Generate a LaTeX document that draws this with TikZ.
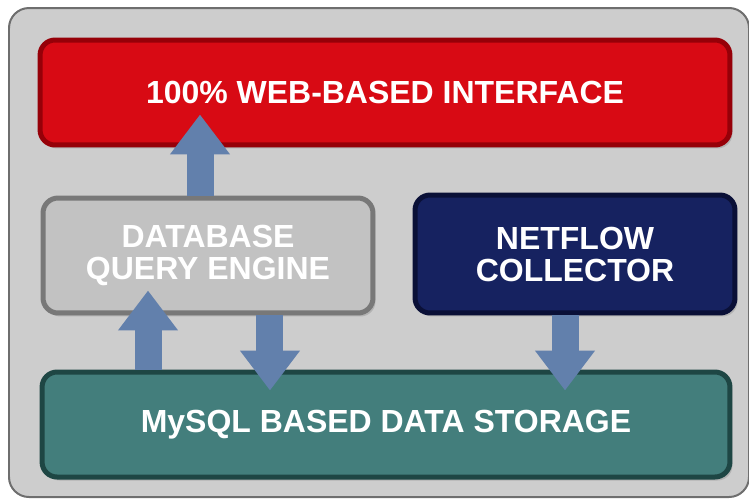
\documentclass[tikz,border=0pt]{standalone}
\usepackage{fontspec}
\setmainfont{Liberation Sans}
\usetikzlibrary{arrows.meta,shadows}

\definecolor{framefill}{RGB}{205,205,205}
\definecolor{frameline}{RGB}{110,110,110}
\definecolor{webred}{RGB}{216,10,20}
\definecolor{webdark}{RGB}{150,0,8}
\definecolor{querygray}{RGB}{194,194,194}
\definecolor{querydark}{RGB}{120,120,120}
\definecolor{collectnavy}{RGB}{22,34,96}
\definecolor{collectdark}{RGB}{10,16,55}
\definecolor{storeteal}{RGB}{67,126,124}
\definecolor{storedark}{RGB}{30,70,68}
\definecolor{arrowblue}{RGB}{98,128,172}

\begin{document}
\begin{tikzpicture}[x=0.02cm,y=-0.02cm,
    box/.style={rounded corners=0.3cm,line width=0.1cm,align=center,text=white,inner sep=0pt,
      font=\bfseries\fontsize{18.2}{18.2}\selectfont,
      drop shadow={shadow xshift=0.05cm,shadow yshift=-0.07cm,opacity=0.35}},
    flow/.style={line width=0.54cm,draw=arrowblue,-{Triangle[width=1.15cm,length=0.8cm]}}]

      \useasboundingbox (0,0) rectangle (749,501);
      \draw[fill=framefill,draw=frameline,line width=0.04cm,rounded corners=0.4cm] (9,8) rectangle (749,497); % frame

      \node[box,fill=webred,draw=webdark,minimum width=13.8cm,minimum height=2.1cm] (web) at (385,92.5) {100\% WEB-BASED INTERFACE};
      \node[box,fill=querygray,draw=querydark,minimum width=6.6cm,minimum height=2.3cm] (query) at (208,255.5) {DATABASE\\QUERY ENGINE};
      \node[box,fill=collectnavy,draw=collectdark,minimum width=6.4cm,minimum height=2.36cm] (collector) at (575,254) {NETFLOW\\COLLECTOR};
      \node[box,fill=storeteal,draw=storedark,minimum width=13.76cm,minimum height=2.1cm] (storage) at (386,424.5) {MySQL BASED DATA STORAGE};

      \draw[flow] ([xshift=-0.16cm]query.north) coordinate (q1) -- ([yshift=0.66cm]web.south -| q1); % to interface
      \draw[flow] ([xshift=-1.2cm]query.south |- storage.north) -- ([xshift=-1.2cm,yshift=0.5cm]query.south); % read
      \draw[flow] ([xshift=1.24cm]query.south) coordinate (q2) -- ([yshift=-0.42cm]storage.north -| q2); % write
      \draw[flow] ([xshift=-0.2cm]collector.south) coordinate (c1) -- ([yshift=-0.42cm]storage.north -| c1); % store flows

\end{tikzpicture}
\end{document}
